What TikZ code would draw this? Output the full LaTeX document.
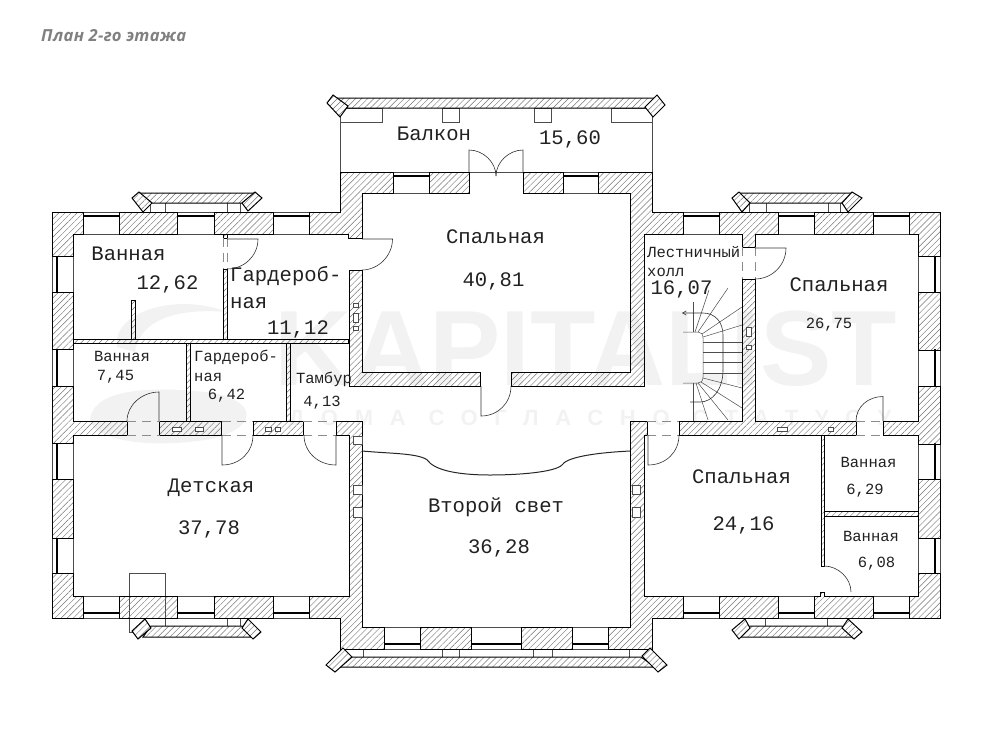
\documentclass[tikz,border=0pt]{standalone}
\usepackage{fontspec}
\usepackage{tikz}
\usetikzlibrary{patterns.meta,arrows}
\setmainfont{Liberation Mono}
\newfontfamily\titlefont[LetterSpace=2]{Open Sans}
\newfontfamily\markfont{Liberation Sans}
\newfontfamily\markwide[LetterSpace=76]{Liberation Sans}
\definecolor{markgray}{gray}{0.95}
\definecolor{hatchgray}{gray}{0.45}
\definecolor{inkgray}{gray}{0.13}
\begin{document}
\begin{tikzpicture}[x=1pt,y=-1pt,
wall/.style={draw=black, line width=0.9pt, line join=miter, pattern={Lines[angle=45,distance=4.3pt,line width=0.45pt]}, pattern color=hatchgray},
partition/.style={wall, line width=0.7pt},
railing/.style={wall, preaction={fill=white}, line width=1pt},
thinline/.style={draw=black!70, line width=0.5pt},
glass/.style={draw=black, line width=1.5pt},
leaf/.style={draw=black!80, line width=0.6pt},
gap/.style={draw=black!45, line width=0.5pt, dash pattern=on 9pt off 6pt},
vent/.style={draw=black!70, line width=0.5pt, fill=white},
big/.style={text=inkgray, inner sep=0pt, font=\fontsize{20.6}{20.6}\selectfont},
small/.style={text=inkgray, inner sep=0pt, font=\fontsize{15.5}{15.5}\selectfont},
]
\useasboundingbox (0,0) rectangle (990,740);

% watermark
\fill[markgray] (117,347) .. controls (112,312) and (175,292) .. (228,312) .. controls (180,308) and (140,318) .. (135,352) -- cycle;
\fill[markgray] (90,420) .. controls (92,392) and (140,385) .. (205,392) .. controls (255,398) and (262,425) .. (215,438) .. controls (170,448) and (95,445) .. (90,420) -- cycle;
\node (markname) [text=markgray, inner sep=0pt, font=\markfont\bfseries\fontsize{107}{107}\selectfont] at (586,349) {KAPITALIST};
\node (markline) [text=markgray, inner sep=0pt, font=\markwide\bfseries\fontsize{22}{22}\selectfont] at (590,420) {ДОМА СОГЛАСНО СТАТУСУ};

\node (plantitle) [anchor=west, text=black!50, inner sep=0pt, font=\titlefont\bfseries\itshape\fontsize{16.6}{16.6}\selectfont] at (41,36) {План 2-го этажа};

% thin outlines under the balconies
\foreach \xa/\ya/\xb/\yb in {340/108/382/122, 442/108/459/122, 534/108/551/122, 611/108/652/122,
  150/201/165/212, 227/201/240/212, 749/201/766/212, 828/201/840/212,
  340/649/363/661, 442/649/459/661, 533/649/552/661, 629/649/652/661,
  129/573/165/632, 227/618/240/628}
  \draw[thinline] (\xa,\ya) rectangle (\xb,\yb);
\draw[thinline] (340,105) -- (340,172);
\draw[thinline] (652,105) -- (652,172);
\draw[thinline] (340,618) -- (340,650);
\draw[thinline] (652,618) -- (652,650);
\draw[thinline] (469,172) -- (523,172);
\draw[thinline] (765,618) -- (765,628);
\draw[thinline] (827,618) -- (827,628);

% windows
\foreach \xa/\xb/\yo/\yt/\yi in {83/119/212/216/234, 177/214/212/216/234, 273/309/212/216/234,
  683/719/212/216/234, 778/814/212/216/234, 873/909/212/216/234,
  393/429/172/176/193, 563/598/172/176/193,
  83/119/618/613/596, 177/214/618/613/596, 273/309/618/613/596,
  683/719/618/613/596, 778/814/618/613/596, 873/909/618/613/596,
  384/420/649/644/627, 471/521/649/644/627, 572/608/649/644/627} {
  \draw[thinline] (\xa,\yo) -- (\xb,\yo);
  \draw[thinline] (\xa,\yi) -- (\xb,\yi);
  \draw[glass] (\xa,\yt) -- (\xb,\yt);
}
\foreach \ya/\yb in {256/292, 349/386, 443/479, 538/573} {
  \draw[thinline] (52,\ya) -- (52,\yb);
  \draw[thinline] (73,\ya) -- (73,\yb);
  \draw[glass] (57,\ya) -- (57,\yb);
  \draw[thinline] (940,\ya) -- (940,\yb);
  \draw[thinline] (918,\ya) -- (918,\yb);
  \draw[glass] (935,\ya) -- (935,\yb);
}

% walls
\foreach \xa/\ya/\xb/\yb in {119/212/177/234, 214/212/273/234, 429/172/469/193, 523/172/563/193,
  814/212/873/234, 918/292/940/350, 918/479/940/538, 719/596/778/618,
  521/627/572/649, 420/627/471/649, 214/596/273/618, 119/596/177/618,
  52/479/73/538, 52/292/73/349, 159.5/421/221.5/435, 253/421/303/435}
  \draw[wall] (\xa,\ya) rectangle (\xb,\yb);
\foreach \xa/\ya/\xb/\yb in {73/339/348/343, 223/269/227/339, 223/234/227/238, 131/300/135/339,
  186/343/190/421, 286.5/343/290.5/421, 821/435/824.5/566, 824.5/511/918/516}
  \draw[partition] (\xa,\ya) rectangle (\xb,\yb);
\draw[wall] (52,212) -- (83,212) -- (83,234) -- (73,234) -- (73,256) -- (52,256) -- cycle;
\draw[wall] (309,212) -- (340,212) -- (340,172) -- (393,172) -- (393,193) -- (362,193) -- (362,238) -- (348,238) -- (348,234) -- (309,234) -- cycle;
\draw[wall] (598,172) -- (652,172) -- (652,212) -- (683,212) -- (683,234) -- (644,234) -- (644,386) -- (511,386) -- (511,372) -- (630,372) -- (630,193) -- (598,193) -- cycle;
\draw[wall] (349,270) -- (362,270) -- (362,372) -- (480,372) -- (480,386) -- (349,386) -- cycle;
\draw[wall] (719,212) -- (778,212) -- (778,234) -- (755,234) -- (755,247) -- (742,247) -- (742,234) -- (719,234) -- cycle;
\draw[wall] (742,279) -- (755,279) -- (755,421) -- (856,421) -- (856,435) -- (679,435) -- (679,421) -- (742,421) -- cycle;
\draw[wall] (909,212) -- (940,212) -- (940,256) -- (918,256) -- (918,234) -- (909,234) -- cycle;
\draw[wall] (918,386) -- (940,386) -- (940,444) -- (918,444) -- (918,435) -- (883,435) -- (883,421) -- (918,421) -- cycle;
\draw[wall] (918,573) -- (940,573) -- (940,618) -- (909,618) -- (909,596) -- (918,596) -- cycle;
\draw[wall] (814,596) -- (820,596) -- (820,592) -- (824,592) -- (824,596) -- (873,596) -- (873,618) -- (814,618) -- cycle;
\draw[wall] (630,421) -- (647,421) -- (647,435) -- (644,435) -- (644,596) -- (683,596) -- (683,618) -- (652,618) -- (652,649) -- (608,649) -- (608,627) -- (630,627) -- cycle;
\draw[wall] (349,435) -- (336,435) -- (336,421) -- (362,421) -- (362,627) -- (384,627) -- (384,649) -- (340,649) -- (340,618) -- (309,618) -- (309,596) -- (349,596) -- cycle;
\draw[wall] (52,573) -- (73,573) -- (73,596) -- (83,596) -- (83,618) -- (52,618) -- cycle;
\draw[wall] (52,386) -- (73,386) -- (73,421) -- (127,421) -- (127,435) -- (73,435) -- (73,443) -- (52,443) -- cycle;

% vents in the walls
\foreach \xa/\ya/\xb/\yb in {172/427/181/431, 195/427/203/431, 265/427/271/431, 275/427/280/431,
  353/303/358/307, 353/313/358/322, 353/326/358/330, 353/436/362/444, 353/485/362/494, 353/507/362/517,
  632/485/640/494, 632/507/640/517, 746/327/751/336, 746/345/751/349, 777/427/787/431, 828/427/833/431}
  \draw[vent] (\xa,\ya) rectangle (\xb,\yb);

% balconies
\draw[railing] (333,98) -- (657,98) -- (645,108) -- (348,108) -- cycle;
\draw[railing] (333,95) -- (348,106) -- (340,117) -- (327,103) -- cycle;
\draw[railing] (657,95) -- (665,105) -- (653,117) -- (645,107) -- cycle;
\draw[railing] (139,193) -- (255,193) -- (242,203) -- (152,203) -- cycle;
\draw[railing] (139,192) -- (152,203) -- (143,212) -- (132,198) -- cycle;
\draw[railing] (255,192) -- (262,198) -- (248,211) -- (242,203) -- cycle;
\draw[railing] (739,193) -- (852,193) -- (842,203) -- (750,203) -- cycle;
\draw[railing] (739,192) -- (750,203) -- (742,212) -- (732,198) -- cycle;
\draw[railing] (852,192) -- (862,198) -- (848,212) -- (842,203) -- cycle;
\draw[railing] (151,626) -- (242,626) -- (254,637) -- (143,637) -- cycle;
\draw[railing] (145,619) -- (151,628) -- (138,639) -- (132,631) -- cycle;
\draw[railing] (248,619) -- (261,632) -- (253,639) -- (242,628) -- cycle;
\draw[railing] (750,626) -- (842,626) -- (854,637) -- (739,637) -- cycle;
\draw[railing] (745,619) -- (750,628) -- (739,639) -- (732,630) -- cycle;
\draw[railing] (848,619) -- (862,632) -- (854,639) -- (842,628) -- cycle;
\draw[railing] (352,657) -- (641,657) -- (655,667) -- (338,667) -- cycle;
\draw[railing] (343,648) -- (352,657) -- (335,672) -- (326,665) -- cycle;
\draw[railing] (650,648) -- (667,665) -- (658,672) -- (642,656) -- cycle;

% door openings
\foreach \xa/\xb in {127/159.5, 221.5/253, 303/336, 647/679, 856/883} {
  \draw[gap] (\xa,421) -- (\xb,421);
  \draw[gap] (\xa,435) -- (\xb,435);
}
\draw[gap] (223,238) -- (223,269);
\draw[gap] (227,238) -- (227,269);
\draw[gap] (742,247) -- (742,279);
\draw[gap] (755,247) -- (755,279);
\draw[leaf] (159,421) -- (159,392) .. controls (142,392) and (127,405) .. (127,421);
\draw[leaf] (222,435) -- (222,465) .. controls (240,465) and (253,452) .. (253,435);
\draw[leaf] (336,435) -- (336,465) .. controls (318,465) and (304,452) .. (304,435);
\draw[leaf] (648,435) -- (648,465) .. controls (666,465) and (679,452) .. (679,435);
\draw[leaf] (883,421) -- (883,396.5) .. controls (868,396.5) and (856,407) .. (856,421);
\draw[leaf] (481,386) -- (481,416) .. controls (498,416) and (511,403) .. (511,386);
\draw[leaf] (227,239) -- (258,239) .. controls (258,256) and (244,269) .. (227,269);
\draw[leaf] (362,239) -- (392.5,239) .. controls (392.5,256) and (378,270) .. (362,270);
\draw[leaf] (755,248) -- (786,248) .. controls (786,265) and (772,279) .. (755,279);
\draw[leaf] (824,566) .. controls (838,566) and (851,578) .. (851,592);
\draw[leaf] (469,172) -- (469,150) .. controls (483,150) and (496,162) .. (496,176);
\draw[leaf] (523,172) -- (523,150) .. controls (509,150) and (496,162) .. (496,176);

% staircase
\draw[thinline] (683,332) -- (698,332) .. controls (701,332) and (703,334) .. (703,338) -- (703,377) .. controls (703,381) and (701,383) .. (698,383) -- (683,383);
\foreach \ys in {342, 352, 362, 373}
  \draw[thinline] (703,\ys) -- (742,\ys);
\foreach \xa/\ya/\xb/\yb in {703/337/742/325, 702/334/742/307, 698/332/728/288, 695/332/709/290, 693/332/693/302,
  703/378/742/388, 701/382/742/408, 698/383/728/420, 696/383/708/420, 693/383/693/421}
  \draw[thinline] (\xa,\ya) -- (\xb,\yb);
\draw[leaf,-angle 60] (723,370) -- (723,335) .. controls (723,322) and (715,313) .. (703,313) -- (682,313);
\draw[leaf] (723,370) .. controls (723,390) and (712,402) .. (700,402) -- (690,402);

% gallery edge
\draw[black!85, line width=1pt] (362,451) .. controls (395,454) and (425,453) .. (430,463) .. controls (440,472) and (465,475) .. (490,475) .. controls (520,475) and (555,472) .. (562,465) .. controls (566,458) and (590,453) .. (630,451);

% room labels
\node (balconyname) [big] at (434,134) {Балкон};
\node (balconyarea) [big] at (570,139) {15,60};
\node (bedmainname) [big] at (495.5,237) {Спальная};
\node (bedmainarea) [big] at (493.5,281) {40,81};
\node (bathaname) [big] at (128.5,254) {Ванная};
\node (bathaarea) [big] at (167.5,284) {12,62};
\node (wardaname) [big, anchor=west] at (230,276) {Гардероб-};
\node (wardaend) [big, anchor=west] at (230,303) {ная};
\node (wardaarea) [big] at (298,329) {11,12};
\node (bathbname) [small] at (122,356) {Ванная};
\node (bathbarea) [small] at (115.5,377) {7,45};
\node (wardbname) [small, anchor=west] at (194,357) {Гардероб-};
\node (wardbend) [small, anchor=west] at (194,377) {ная};
\node (wardbarea) [small] at (226.5,396) {6,42};
\node (vestname) [small] at (324,379) {Тамбур};
\node (vestarea) [small] at (322,403) {4,13};
\node (hallname) [small, anchor=west] at (647,252) {Лестничный};
\node (hallend) [small, anchor=west] at (647,272) {холл};
\node (hallarea) [big] at (681.5,289) {16,07};
\node (bedeastname) [big] at (839,285) {Спальная};
\node (bedeastarea) [small] at (829,325) {26,75};
\node (nurseryname) [big] at (211,488) {Детская};
\node (nurseryarea) [big] at (209,529) {37,78};
\node (voidname) [big] at (496,507) {Второй свет};
\node (voidarea) [big] at (499,548) {36,28};
\node (bedsouthname) [big] at (741.5,477) {Спальная};
\node (bedsoutharea) [big] at (743.5,525) {24,16};
\node (bathcname) [small] at (868.5,462) {Ванная};
\node (bathcarea) [small] at (865,491) {6,29};
\node (bathdname) [small] at (871,536) {Ванная};
\node (bathdarea) [small] at (876.5,564) {6,08};
\end{tikzpicture}
\end{document}
